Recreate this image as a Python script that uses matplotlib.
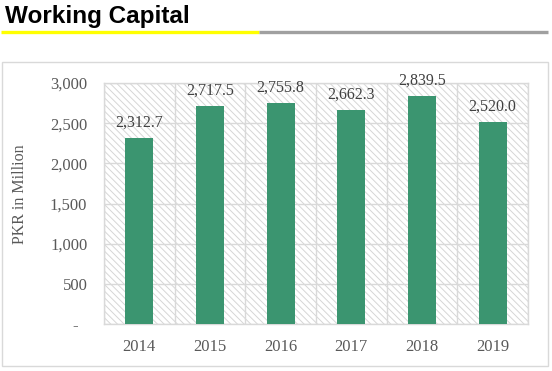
import matplotlib

matplotlib.use("Agg")

import matplotlib.pyplot as plt
from matplotlib.patches import Rectangle
from matplotlib.lines import Line2D

years = ["2014", "2015", "2016", "2017", "2018", "2019"]
working_capital = [2312.7, 2717.5, 2755.8, 2662.3, 2839.5, 2520.0]
y_ticks = [0, 500, 1000, 1500, 2000, 2500, 3000]
y_tick_labels = ["-  ", "500", "1,000", "1,500", "2,000", "2,500", "3,000"]

W, H = 552, 371
BAR_COLOR = "#3b9570"
TEXT_COLOR = "#595959"
GRID_COLOR = "#d9d9d9"
SERIF = ["Liberation Serif", "DejaVu Serif"]

plt.rcParams["hatch.linewidth"] = 0.7

fig = plt.figure(figsize=(W / 100, H / 100), dpi=100)

# title and the two-tone underline
fig.text(5 / W, 1 - 16 / H, "Working Capital", fontsize=17.5, fontweight="bold",
         family=["Liberation Sans", "DejaVu Sans"], va="center", ha="left", color="black")
fig.add_artist(Line2D([1 / W, 259 / W], [1 - 31.5 / H] * 2, color="#ffff00", lw=2.4,
                      transform=fig.transFigure, solid_capstyle="butt"))
fig.add_artist(Line2D([259 / W, 548 / W], [1 - 31.5 / H] * 2, color="#a0a0a0", lw=2.4,
                      transform=fig.transFigure, solid_capstyle="butt"))

# chart frame
fig.add_artist(Rectangle((2 / W, 1 - 366 / H), 546 / W, 304 / H, transform=fig.transFigure,
                         facecolor="white", edgecolor=GRID_COLOR, lw=1.0, zorder=0))

ax = fig.add_axes([104 / W, 1 - 324 / H, 424 / W, 241 / H])
ax.set_facecolor("white")
ax.add_patch(Rectangle((0, 0), 1, 1, transform=ax.transAxes, facecolor="white",
                       edgecolor="#d6d6d6", hatch="\\\\\\\\\\", lw=0, zorder=0))

x = range(len(years))
bars = ax.bar(x, working_capital, width=0.4, color=BAR_COLOR, zorder=3)
for xi, v in zip(x, working_capital):
    ax.text(xi, v + 90, f"{v:,.1f}", ha="center", va="bottom", fontsize=11.5,
            family=SERIF, color="#404040", zorder=4)

ax.set_xlim(-0.5, len(years) - 0.5)
ax.set_ylim(0, 3000)
ax.set_yticks(y_ticks)
ax.set_yticklabels(y_tick_labels)
ax.set_xticks(list(x))
ax.set_xticklabels(years)
ax.set_xticks([i + 0.5 for i in range(-1, len(years))], minor=True)

ax.grid(axis="y", which="major", color=GRID_COLOR, lw=1.0, zorder=1)
ax.grid(axis="x", which="minor", color=GRID_COLOR, lw=1.0, zorder=1)
ax.set_axisbelow(True)

for sp in ax.spines.values():
    sp.set_color(GRID_COLOR)
    sp.set_linewidth(1.0)

ax.tick_params(axis="both", which="both", length=0, labelcolor=TEXT_COLOR, labelsize=12)
ax.tick_params(axis="y", pad=12)
ax.tick_params(axis="x", pad=11)
for lab in ax.get_xticklabels() + ax.get_yticklabels():
    lab.set_family(SERIF)

fig.text(20 / W, 1 - 194 / H, "PKR in Million", rotation=90, va="center", ha="center",
         fontsize=11.5, family=SERIF, color=TEXT_COLOR)

fig.savefig("out.png", dpi=100)
